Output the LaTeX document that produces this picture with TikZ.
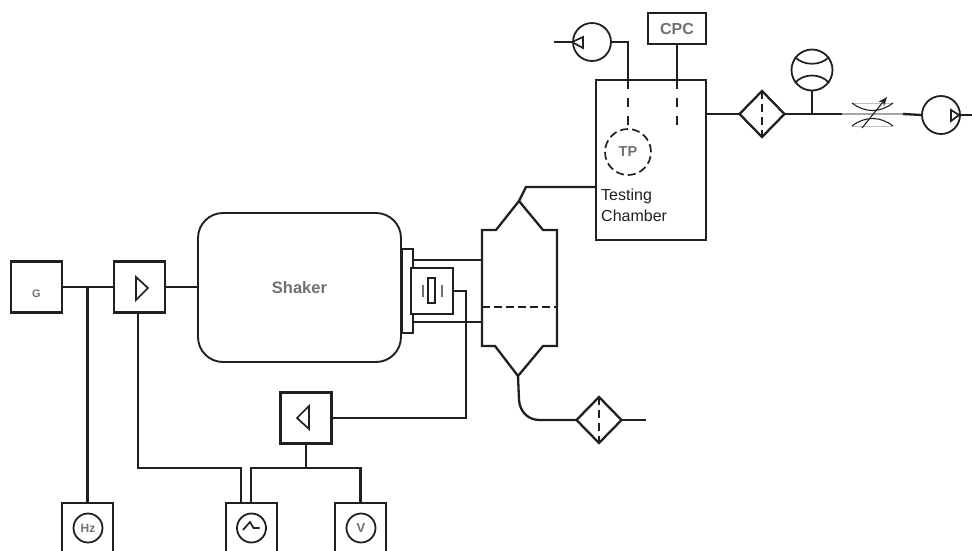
\documentclass[tikz,border=0pt]{standalone}
\usepackage{fontspec}
\setmainfont{Liberation Sans}
\usetikzlibrary{arrows.meta, positioning, shapes.geometric, calc}
\definecolor{linedark}{RGB}{32, 32, 32}
\definecolor{labelgray}{RGB}{112, 112, 112}
\definecolor{valvegray}{RGB}{165, 165, 165}
\tikzset{
  pipe/.style={draw=linedark, line width=2.3pt},
  thinpipe/.style={draw=linedark, line width=1.7pt},
  unitbox/.style={draw=linedark, line width=2.4pt, minimum width=51pt, minimum height=51pt, inner sep=0pt, outer sep=0pt},
  meterbox/.style={unitbox, minimum height=60pt},
  dial/.style={circle, draw=linedark, line width=1.8pt, minimum size=29pt, inner sep=0pt, outer sep=0pt},
  pumpdisc/.style={circle, draw=linedark, line width=1.8pt, minimum size=38pt, inner sep=0pt, outer sep=0pt},
  filterdiamond/.style={diamond, draw=linedark, line width=2.3pt, minimum width=45pt, minimum height=46pt, inner sep=0pt, outer sep=0pt},
  graylabel/.style={text=labelgray, font=\bfseries\fontsize{#1}{#1}\selectfont},
  gaplines/.style={draw=linedark, line width=1.7pt, dash pattern=on 8pt off 5pt}
}

\begin{document}
\begin{tikzpicture}[x=1pt, y=-1pt]
  \useasboundingbox (0,0) rectangle (972,550);
  \clip (0,0) rectangle (972,550);

  % signal chain
  \node[unitbox, graylabel=11] (gen) at (36.5,287) {\smash{\raisebox{-10pt}{G}}};
  \node[unitbox] (amp) at (139.5,287) {};
  \node[unitbox] (recamp) at (306,418) {};
  \draw[thinpipe] (136,277) -- (148,288) -- (136,300) -- cycle;
  \draw[thinpipe] (309,406) -- (297,418) -- (309,429) -- cycle;

  \foreach \x/\name in {87.5/hzbox, 251.5/oscbox, 360.5/vbox} {
    \node[meterbox] (\name) at (\x,533) {};
  }
  \node[dial, graylabel=12] (hzdial) at (88,528) {Hz};
  \node[dial] (oscdial) at (251.5,528) {};
  \node[dial, graylabel=13] (vdial) at (361,528) {V};
  \draw[thinpipe] (243,530) -- (250,522) -- (253.5,528) -- (259.5,528);

  \node[draw=linedark, line width=1.9pt, rounded corners=25pt, minimum width=203pt, minimum height=149pt, inner sep=0pt, outer sep=0pt, graylabel=16.5] (shaker) at (299.5,287.5) {Shaker};

  \draw[pipe] (gen.east) -- (amp.west);
  \draw[pipe] (amp.east) -- (amp.east -| shaker.west);
  \draw[pipe] (hzbox.north) -- (hzbox.north |- gen.east);

  \coordinate (busleft) at (138,468);
  \coordinate (busjoin) at (306,468);
  \coordinate (oscin) at (241,503);
  \coordinate (oscout) at (251,503);
  \draw[pipe] (amp.south -| busleft) -- (busleft) -| (oscin);
  \draw[pipe] (recamp.south) -- (busjoin);
  \draw[pipe] (oscout) |- (busjoin) -| (vbox.north);

  % sensor on the shaker head
  \node[draw=linedark, line width=2pt, minimum width=11pt, minimum height=84pt, inner sep=0pt, outer sep=0pt] (plate) at (407.5,291) {};
  \node[draw=linedark, line width=2pt, fill=white, minimum width=42pt, minimum height=46pt, inner sep=0pt, outer sep=0pt] (sensor) at (432,291) {};
  \node[draw=linedark, line width=2pt, minimum width=7pt, minimum height=25pt, inner sep=0pt, outer sep=0pt] (crystal) at (431.5,290.5) {};
  \foreach \x in {423,442} {
    \draw[labelgray, line width=1.5pt] (\x,285) -- (\x,297);
  }

  \coordinate (vesl) at (482,230);
  \coordinate (vesr) at (557,230);
  \coordinate (apextop) at (519,201);
  \coordinate (apexbot) at (518,376);
  \draw[pipe] (vesl) -- (496,230) -- (apextop) -- (543,230) -- (vesr) -- (557,346) -- (543,346) -- (apexbot) -- (495,346) -- (482,346) -- cycle;
  \draw[thinpipe, dash pattern=on 8pt off 4pt] (482,307) -- (557,307);

  \coordinate (armtop) at (413,260);
  \coordinate (armbot) at (413,322);
  \draw[pipe] (armtop) -- (armtop -| vesl);
  \draw[pipe] (armbot) -- (armbot -| vesl);

  \coordinate (probeturn) at (466,291);
  \draw[pipe] (recamp.east) -| (probeturn) -- (sensor.east);

  % outlet filter
  \node[filterdiamond] (filterlow) at (599,420) {};
  \coordinate (filterlowend) at (646,420);
  \draw[gaplines] (filterlow.north) -- (filterlow.south);
  \draw[pipe] (apexbot) -- (519,400) .. controls (520,412) and (528,420) .. (540,420) -- (filterlow.west);
  \draw[pipe] (filterlow.east) -- (filterlowend);

  % testing chamber
  \node[draw=linedark, line width=2.4pt, minimum width=110pt, minimum height=160pt, inner sep=0pt, outer sep=0pt] (chamber) at (651,160) {};
  \node[align=left, anchor=north west, inner sep=0pt, text=linedark, font=\fontsize{16}{20.5}\selectfont] (chamberlabel) at (601,189) {Testing\\Chamber};
  \coordinate (chamberport) at (596,187);
  \draw[pipe] (apextop) -- (526,187) -- (chamberport);

  \node[circle, draw=linedark, line width=1.7pt, dash pattern=on 8pt off 4pt, minimum size=46pt, inner sep=0pt, outer sep=0pt, graylabel=14.5] (tp) at (628,152) {TP};
  \node[draw=linedark, line width=2.4pt, minimum width=58pt, minimum height=31pt, inner sep=0pt, outer sep=0pt, graylabel=16] (cpc) at (677,28.5) {CPC\hspace{7pt}};
  \node[pumpdisc] (pumpin) at (592,42) {};
  \coordinate (pumpinend) at (554,42);
  \coordinate (pumpdrop) at (628,80);
  \coordinate (cpcdrop) at (677,80);
  \coordinate (cpcend) at (677,127);
  \draw[thinpipe] (572,42) -- (583,37) -- (583,48) -- cycle;
  \draw[thinpipe] (pumpinend) -- (pumpin.west);
  \draw[pipe] (pumpin.east) -| (pumpdrop);
  \draw[pipe] (cpc.south) -- (cpcdrop);
  \draw[thinpipe, dash pattern=on 9pt off 9pt] (pumpdrop) -- (tp.north);
  \draw[thinpipe, dash pattern=on 9pt off 9pt] (cpcdrop) -- (cpcend);

  % exhaust line
  \node[filterdiamond] (filterhigh) at (762,114) {};
  \draw[gaplines] (filterhigh.north) -- (filterhigh.south);
  \coordinate (valvein) at (842,114);
  \coordinate (valveout) at (903,114);
  \node[circle, draw=linedark, line width=1.8pt, minimum size=41pt, inner sep=0pt, outer sep=0pt] (gauge) at (812,70) {};
  \node[pumpdisc] (pumpout) at (941,115) {};
  \coordinate (pumpoutend) at (972,115);
  \draw[pipe] (chamber.east |- filterhigh.west) -- (filterhigh.west);
  \draw[pipe] (filterhigh.east) -- (valvein);
  \draw[thinpipe] (gauge.south) -- (gauge.south |- valvein);
  \draw[thinpipe] (795,57) .. controls (803,66) and (821,66) .. (829,57);
  \draw[thinpipe] (795,83) .. controls (803,73) and (821,73) .. (829,83);

  \draw[valvegray, line width=1.2pt] (valvein) -- (valveout);
  \draw[valvegray!70, line width=1pt] (852,103) -- (893,103);
  \draw[valvegray!70, line width=1pt] (852,126) -- (893,126);
  \draw[linedark, line width=1.1pt] (852,103) .. controls (865,113) and (880,113) .. (893,103);
  \draw[linedark, line width=1.1pt] (852,126) .. controls (865,116) and (880,116) .. (893,126);
  \draw[linedark, line width=1.1pt, -{Stealth[length=9pt, width=7pt]}] (862,128) -- (887,97);

  \draw[pipe] (valveout) -- (pumpout.west);
  \draw[thinpipe] (951,110) -- (959,115) -- (951,121) -- cycle;
  \draw[thinpipe] (pumpout.east) -- (pumpoutend);
\end{tikzpicture}
\end{document}
